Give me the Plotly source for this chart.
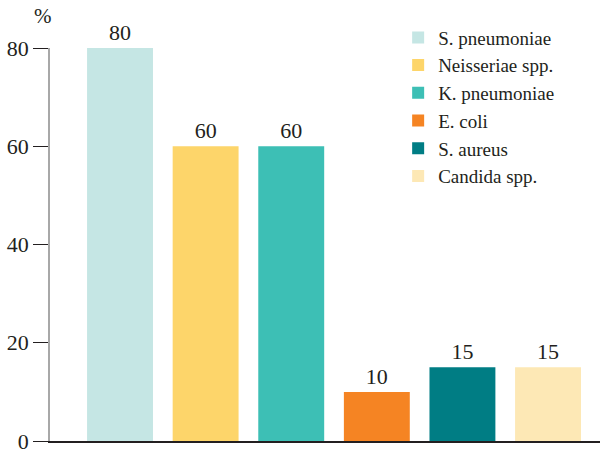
import plotly.graph_objects as go

# Isolates and their share (%)
organisms = ["S. pneumoniae", "Neisseriae spp.", "K. pneumoniae", "E. coli", "S. aureus", "Candida spp."]
percent = [80, 60, 60, 10, 15, 15]
colors = ["#c5e6e4", "#fdd56a", "#3dbfb5", "#f58423", "#007d84", "#fde8b5"]
y_ticks = [0, 20, 40, 60, 80]

FONT = "Liberation Serif"
INK = "#231f20"

fig = go.Figure()
for name, val, col in zip(organisms, percent, colors):
    fig.add_trace(go.Bar(
        x=[name], y=[val], name=name,
        marker=dict(color=col, line=dict(width=0)),
        width=0.77,
        text=[str(val)], textposition="outside",
        textfont=dict(family=FONT, size=22, color=INK),
        cliponaxis=False,
    ))

fig.update_layout(
    width=607, height=449,
    margin=dict(l=50, r=7, t=48, b=8, autoexpand=False),
    paper_bgcolor="white", plot_bgcolor="white",
    barmode="overlay",
    font=dict(family=FONT, size=20, color=INK),
    legend=dict(
        x=0.633, y=1.075, xanchor="left", yanchor="top",
        font=dict(family=FONT, size=19, color=INK),
        bgcolor="rgba(0,0,0,0)", tracegroupgap=0,
    ),
    annotations=[dict(
        text="%", x=-0.013, y=1.045, xref="paper", yref="paper",
        xanchor="center", yanchor="bottom", showarrow=False,
        font=dict(family=FONT, size=21, color=INK),
    )],
)

fig.update_xaxes(
    type="category", categoryorder="array", categoryarray=organisms,
    range=[-0.818, 5.607], showticklabels=False, ticks="",
    showgrid=False, zeroline=False, automargin=False,
    showline=True, linecolor="#231f20", linewidth=1.5,
)
fig.update_yaxes(
    range=[0, 80], tickvals=y_ticks, ticks="outside", ticklen=15,
    tickcolor="#231f20", tickwidth=1.3,
    tickfont=dict(family=FONT, size=22, color=INK),
    ticklabeloverflow="allow", automargin=False,
    showgrid=False, zeroline=False,
    showline=True, linecolor="#a8a8a8", linewidth=1.5,
)

fig.write_html("out.html")
